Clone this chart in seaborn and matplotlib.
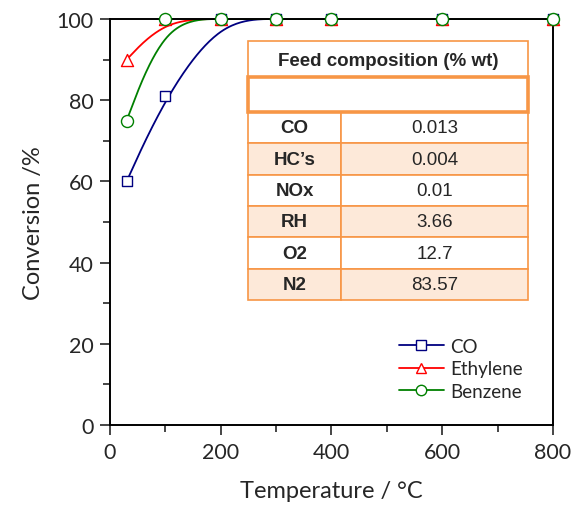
import numpy as np
import pandas as pd
import seaborn as sns
import matplotlib.pyplot as plt
from matplotlib.lines import Line2D
from matplotlib.patches import Rectangle

# data
temps = [30, 100, 200, 300, 400, 600, 800]
co = [60, 81, 100, 100, 100, 100, 100]
ethylene = [90, 100, 100, 100, 100, 100, 100]
benzene = [75, 100, 100, 100, 100, 100, 100]

series_names = ["CO", "Ethylene", "Benzene"]
colors = {"CO": "#000080", "Ethylene": "#FF0000", "Benzene": "#008000"}
markers = {"CO": "s", "Ethylene": "^", "Benzene": "o"}

feed_species = ["CO", "HC\u2019s", "NOx", "RH", "O2", "N2"]
feed_values = ["0.013", "0.004", "0.01", "3.66", "12.7", "83.57"]


# smoothed line: clamped uniform cubic B-spline using the data as control points
def smooth(x, y, n=40):
    p = np.column_stack([np.asarray(x, float), np.asarray(y, float)])
    pts = np.vstack([p[0], p[0], p, p[-1], p[-1]])
    t = np.linspace(0, 1, n)[:, None]
    b0 = (1 - t) ** 3 / 6
    b1 = (3 * t ** 3 - 6 * t ** 2 + 4) / 6
    b2 = (-3 * t ** 3 + 3 * t ** 2 + 3 * t + 1) / 6
    b3 = t ** 3 / 6
    out = [b0 * pts[i] + b1 * pts[i + 1] + b2 * pts[i + 2] + b3 * pts[i + 3]
           for i in range(len(pts) - 3)]
    out = np.vstack(out)
    return out[:, 0], out[:, 1]


raw = pd.DataFrame({
    "T": temps * 3,
    "X": co + ethylene + benzene,
    "gas": ["CO"] * 7 + ["Ethylene"] * 7 + ["Benzene"] * 7,
})

curves = []
for name, vals in zip(series_names, [co, ethylene, benzene]):
    xs, ys = smooth(temps, vals)
    curves.append(pd.DataFrame({"T": xs, "X": ys, "gas": name}))
curves = pd.concat(curves, ignore_index=True)

sns.set_style("ticks")
plt.rcParams["font.family"] = ["Lato", "DejaVu Sans"]

fig = plt.figure(figsize=(5.73, 5.06), dpi=100)
ax = fig.add_axes([110 / 573, 80 / 506, 443 / 573, 406 / 506])

sns.lineplot(data=curves, x="T", y="X", hue="gas", palette=colors, sort=False,
             estimator=None, units="gas", linewidth=1.3, legend=False, ax=ax)
for name in series_names:
    sub = raw[raw.gas == name]
    sns.scatterplot(data=sub, x="T", y="X", marker=markers[name], s=75 if name != "CO" else 60,
                    facecolor="white", edgecolor=colors[name], linewidth=1.0,
                    legend=False, ax=ax, zorder=5)
    ax.collections[-1].set_clip_on(False)

ax.set_xlim(0, 800)
ax.set_ylim(0, 100)
ax.set_xticks([0, 200, 400, 600, 800])
ax.set_xticks([100, 300, 500, 700], minor=True)
ax.set_yticks(range(0, 101, 20))
ax.set_yticks(range(10, 100, 20), minor=True)
ax.tick_params(axis="both", which="major", direction="out", length=7, width=1.2, labelsize=15.5, pad=5)
ax.tick_params(axis="both", which="minor", direction="out", length=5, width=1.2)
for sp in ax.spines.values():
    sp.set_linewidth(1.4)
    sp.set_color("black")

ax.set_xlabel("Temperature / \u00b0C", fontsize=17, labelpad=13)
ax.set_ylabel("Conversion /%", fontsize=17, labelpad=9)

handles = [Line2D([], [], color=colors[n], marker=markers[n], markerfacecolor="white",
                  markeredgecolor=colors[n], markersize=7.5, linewidth=1.3) for n in series_names]
ax.legend(handles, series_names, loc="lower right", bbox_to_anchor=(0.97, 0.02), frameon=False,
          fontsize=13.5, handlelength=2.4, labelspacing=0.3, handletextpad=0.35)

# feed composition table (axes fraction units)
orange = "#F79646"
peach = "#FDE9D9"
x0, xm, x1 = 0.3115, 0.5214, 0.9436
top = 0.9458
title_h = 0.0887
empty_h = 0.0862
row_h = 0.0772
tr = ax.transAxes
tfont = "Liberation Sans"

ax.add_patch(Rectangle((x0, top - title_h), x1 - x0, title_h, transform=tr,
                       facecolor="white", edgecolor=orange, linewidth=1.2, zorder=6))
ax.text((x0 + x1) / 2, top - title_h * 0.55, "Feed composition (% wt)", transform=tr,
        ha="center", va="center", fontsize=13.5, fontweight="bold",
        family=tfont, zorder=7)
y = top - title_h
ax.add_patch(Rectangle((x0, y - empty_h), x1 - x0, empty_h, transform=tr,
                       facecolor="white", edgecolor=orange, linewidth=2.6, zorder=8))
y -= empty_h
for i, (sp_name, val) in enumerate(zip(feed_species, feed_values)):
    fc = peach if i % 2 == 1 else "white"
    ax.add_patch(Rectangle((x0, y - row_h), xm - x0, row_h, transform=tr,
                           facecolor=fc, edgecolor=orange, linewidth=1.2, zorder=6))
    ax.add_patch(Rectangle((xm, y - row_h), x1 - xm, row_h, transform=tr,
                           facecolor=fc, edgecolor=orange, linewidth=1.2, zorder=6))
    ax.text((x0 + xm) / 2, y - row_h / 2, sp_name, transform=tr, ha="center", va="center",
            fontsize=13.5, fontweight="bold", family=tfont, zorder=7)
    ax.text((xm + x1) / 2, y - row_h / 2, val, transform=tr, ha="center", va="center",
            fontsize=13.5, family=tfont, zorder=7)
    y -= row_h

fig.savefig("out.png", dpi=100)
